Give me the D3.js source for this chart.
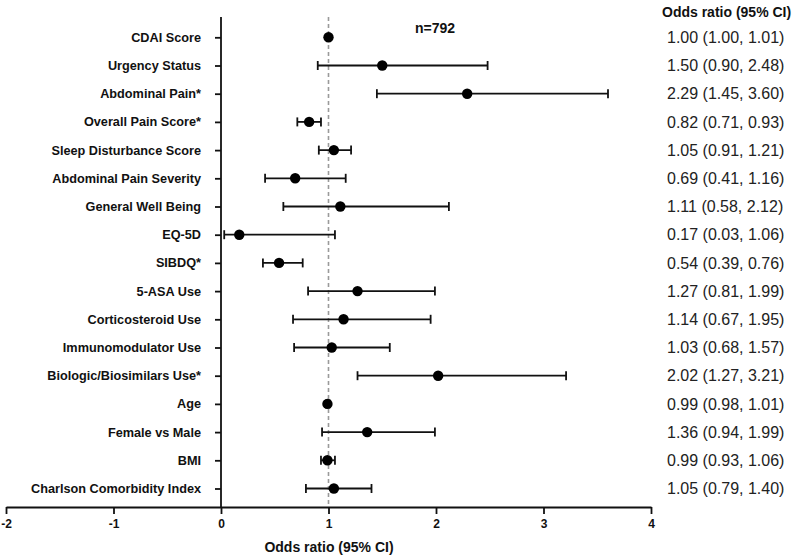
<!DOCTYPE html>
<html><head><meta charset="utf-8">
<script src="https://cdn.jsdelivr.net/npm/d3@7"></script>
<style>body{margin:0;background:#fff;} svg{display:block;font-family:"Liberation Sans",Arial,sans-serif;}</style>
</head><body><div id="chart"></div>
<script>
const labels = ["CDAI Score","Urgency Status","Abdominal Pain*","Overall Pain Score*","Sleep Disturbance Score","Abdominal Pain Severity","General Well Being","EQ-5D","SIBDQ*","5-ASA Use","Corticosteroid Use","Immunomodulator Use","Biologic/Biosimilars Use*","Age","Female vs Male","BMI","Charlson Comorbidity Index"];
const oddsRatio = [1.00,1.50,2.29,0.82,1.05,0.69,1.11,0.17,0.54,1.27,1.14,1.03,2.02,0.99,1.36,0.99,1.05];
const ciLow  = [1.00,0.90,1.45,0.71,0.91,0.41,0.58,0.03,0.39,0.81,0.67,0.68,1.27,0.98,0.94,0.93,0.79];
const ciHigh = [1.01,2.48,3.60,0.93,1.21,1.16,2.12,1.06,0.76,1.99,1.95,1.57,3.21,1.01,1.99,1.06,1.40];
const xTicks = [-2,-1,0,1,2,3,4];

const W = 797, H = 555;
const svg = d3.select("#chart").append("svg").attr("width", W).attr("height", H);

const x = d3.scaleLinear().domain([-2, 4]).range([6, 651]);
const y = d3.scalePoint().domain(labels).range([37.3, 488.5]);
const axisY = 507, topY = 17;
const SW = 1.8;

// reference dashed line at OR = 1
svg.append("line").attr("x1", x(1)).attr("x2", x(1)).attr("y1", topY).attr("y2", axisY)
  .attr("stroke", "#9a9a9a").attr("stroke-width", 1.6).attr("stroke-dasharray", "4,3");

// x axis
const xAxis = svg.append("g").attr("transform", `translate(0,${axisY})`)
  .call(d3.axisBottom(x).tickValues(xTicks).tickFormat(d => String(d)).tickSize(7).tickSizeOuter(0));
xAxis.select(".domain").attr("stroke", "#111").attr("stroke-width", SW);
xAxis.selectAll(".tick line").attr("stroke", "#111").attr("stroke-width", SW);
xAxis.selectAll(".tick text").attr("font-size", 12).attr("font-weight", "bold").attr("fill", "#111")
  .attr("font-family", "Liberation Sans, Arial, sans-serif").attr("dy", "0.95em");

// y axis at x = 0
const yAxisG = svg.append("g").attr("transform", `translate(${x(0)},0)`)
  .call(d3.axisLeft(y).tickSize(6).tickPadding(14).tickSizeOuter(0));
yAxisG.select(".domain").attr("d", `M0,${topY}V${axisY}`).attr("stroke", "#111").attr("stroke-width", SW);
yAxisG.selectAll(".tick line").attr("stroke", "#111").attr("stroke-width", SW);
yAxisG.selectAll(".tick text").attr("font-size", 12.7).attr("font-weight", "bold").attr("fill", "#111")
  .attr("font-family", "Liberation Sans, Arial, sans-serif");

// error bars
const rows = labels.map((l, i) => ({label: l, or: oddsRatio[i], lo: ciLow[i], hi: ciHigh[i]}));
const g = svg.append("g");
g.selectAll("line.ci").data(rows).join("line").attr("class", "ci")
  .attr("x1", d => x(d.lo)).attr("x2", d => x(d.hi))
  .attr("y1", d => y(d.label)).attr("y2", d => y(d.label))
  .attr("stroke", "#111").attr("stroke-width", SW);
g.selectAll("line.capL").data(rows).join("line").attr("class", "capL")
  .attr("x1", d => x(d.lo)).attr("x2", d => x(d.lo))
  .attr("y1", d => y(d.label) - 4.5).attr("y2", d => y(d.label) + 4.5)
  .attr("stroke", "#111").attr("stroke-width", SW);
g.selectAll("line.capR").data(rows).join("line").attr("class", "capR")
  .attr("x1", d => x(d.hi)).attr("x2", d => x(d.hi))
  .attr("y1", d => y(d.label) - 4.5).attr("y2", d => y(d.label) + 4.5)
  .attr("stroke", "#111").attr("stroke-width", SW);
g.selectAll("circle").data(rows).join("circle")
  .attr("cx", d => x(d.or)).attr("cy", d => y(d.label)).attr("r", 5.2).attr("fill", "#000");

// n label
svg.append("text").attr("x", 435).attr("y", 33).attr("text-anchor", "middle")
  .attr("font-size", 14).attr("font-weight", "bold").attr("fill", "#111").text("n=792");

// right column
const f = d3.format(".2f");
svg.append("text").attr("x", 662).attr("y", 17).attr("font-size", 14).attr("font-weight", "bold")
  .attr("fill", "#111").text("Odds ratio (95% CI)");
svg.append("g").selectAll("text").data(rows).join("text")
  .attr("x", 667).attr("y", d => y(d.label)).attr("dy", "0.36em")
  .attr("font-size", 16).attr("fill", "#222")
  .text(d => `${f(d.or)} (${f(d.lo)}, ${f(d.hi)})`);

// x axis title
svg.append("text").attr("x", 329).attr("y", 552).attr("text-anchor", "middle")
  .attr("font-size", 14).attr("font-weight", "bold").attr("fill", "#111").text("Odds ratio (95% CI)");
</script></body></html>
